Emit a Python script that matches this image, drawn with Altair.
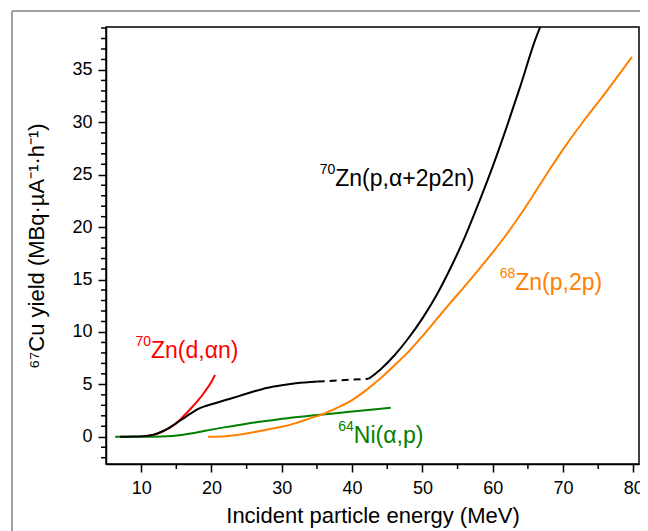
import altair as alt
import pandas as pd

# ---- data ----
# 70Zn(p,a+2p2n): low-energy solid part, dashed bridge, high-energy solid part
zn70p_low_e = [7.0, 9, 11, 12, 13, 14, 15, 16, 17, 18, 19, 20, 22, 24, 26, 28, 30, 32, 35.1]
zn70p_low_y = [0, 0.02, 0.1, 0.25, 0.5, 0.85, 1.3, 1.75, 2.2, 2.62, 2.9, 3.1, 3.5, 3.9, 4.32, 4.68, 4.92, 5.1, 5.27]
zn70p_gap_e = [35.1, 42.35]
zn70p_gap_y = [5.27, 5.53]
zn70p_high_e = [42.35, 44, 46, 48, 50, 52, 54, 56, 58, 60, 62, 64, 66, 66.75]
zn70p_high_y = [5.53, 6.4, 7.75, 9.4, 11.3, 13.5, 16.1, 19.0, 22.3, 25.8, 29.6, 33.6, 37.8, 39.1]

# 70Zn(d,an)
zn70d_e = [10.5, 12, 13, 14, 15, 16, 17, 18, 19, 20, 20.5]
zn70d_y = [0.05, 0.22, 0.5, 0.85, 1.3, 1.95, 2.65, 3.4, 4.25, 5.25, 5.9]

# 64Ni(a,p)
ni64_e = [6.3, 10, 13, 16, 18, 20, 22, 25, 28, 31, 34, 37, 40, 43, 45.5]
ni64_y = [0, 0, 0.03, 0.2, 0.42, 0.68, 0.92, 1.25, 1.52, 1.78, 2.0, 2.2, 2.4, 2.6, 2.76]

# 68Zn(p,2p)
zn68_e = [19.5, 22, 25, 28, 30, 32, 34, 36, 38, 40, 42, 44, 46, 48, 50, 52, 54, 56, 58,
          60, 62, 64, 66, 68, 70.5, 73, 76, 79.8]
zn68_y = [0, 0.05, 0.3, 0.7, 0.95, 1.3, 1.75, 2.2, 2.8, 3.5, 4.45, 5.55, 6.8, 8.1, 9.6,
          11.2, 12.8, 14.35, 15.95, 17.6, 19.35, 21.25, 23.3, 25.4, 27.9, 30.2, 32.8, 36.25]

# curve labels
label_sup = ["70", "70", "68", "64"]
label_main = ["Zn(p,\u03b1+2p2n)", "Zn(d,\u03b1n)", "Zn(p,2p)", "Ni(\u03b1,p)"]
label_e = [37.6, 11.4, 63.2, 40.25]
label_y = [23.9, 7.5, 14.0, -0.6]
label_color = ["#000000", "#ff0000", "#ff8000", "#008000"]

# ticks
x_major = list(range(10, 81, 10))
x_minor = list(range(15, 80, 10))
y_major = list(range(0, 40, 5))
y_minor = [v for v in range(-2, 40) if v % 5 != 0]

FONT = "Liberation Sans"
W, H = 533, 437

xscale = alt.Scale(domain=[5, 80.8], nice=False, zero=False)
yscale = alt.Scale(domain=[-2.6, 39.1], nice=False, zero=False)

xaxis = alt.Axis(
    values=x_major, tickSize=8,
    tickWidth=1.5, tickColor="black", domainColor="black", domainWidth=1.5,
    grid=False, labelFlush=False, labelOverlap=False,
    labelFont=FONT, labelFontSize=18, labelColor="black", labelPadding=7,
    title="Incident particle energy (MeV)", titleFont=FONT, titleFontSize=22,
    titleFontWeight="normal", titleColor="black", titlePadding=8,
)
yaxis = alt.Axis(
    values=y_major, tickSize=8,
    tickWidth=1.5, tickColor="black", domainColor="black", domainWidth=1.5,
    grid=False, labelFlush=False, labelOverlap=False,
    labelFont=FONT, labelFontSize=18, labelColor="black", labelPadding=6,
    title="\u2076\u2077Cu yield (MBq\u00b7\u00b5A\u207b\u00b9\u00b7h\u207b\u00b9)",
    titleFont=FONT, titleFontSize=22, titleFontWeight="normal", titleColor="black",
    titlePadding=23,
)

X = alt.X("E:Q", scale=xscale, axis=xaxis)
Y = alt.Y("Y:Q", scale=yscale, axis=yaxis)


def curve(es, ys, color, dash=None):
    df = pd.DataFrame({"E": es, "Y": ys})
    kw = dict(color=color, strokeWidth=2, clip=True, interpolate="monotone")
    if dash is not None:
        kw["strokeDash"] = dash
    return alt.Chart(df).mark_line(**kw).encode(x=X, y=Y)


lines = [
    curve(zn70d_e, zn70d_y, "#ff0000"),
    curve(ni64_e, ni64_y, "#008000"),
    curve(zn68_e, zn68_y, "#ff8000"),
    curve(zn70p_low_e, zn70p_low_y, "#000000"),
    curve(zn70p_gap_e, zn70p_gap_y, "#000000", dash=[7, 5]),
    curve(zn70p_high_e, zn70p_high_y, "#000000"),
]

# minor ticks (outward, shorter than the major ones)
y_minor_ticks = alt.Chart(pd.DataFrame({"Y": y_minor})).mark_rule(
    color="black", strokeWidth=1.5).encode(y=Y, x=alt.value(-5), x2=alt.value(0))
x_minor_ticks = alt.Chart(pd.DataFrame({"E": x_minor})).mark_rule(
    color="black", strokeWidth=1.5).encode(x=X, y=alt.value(H), y2=alt.value(H + 5))

lab_df = pd.DataFrame({"E": label_e, "Y": label_y, "sup": label_sup,
                       "main": label_main, "c": label_color})
sup_text = alt.Chart(lab_df).mark_text(
    align="right", baseline="alphabetic", dy=-12, fontSize=14, font=FONT
).encode(x=X, y=Y, text="sup:N", color=alt.Color("c:N", scale=None))
main_text = alt.Chart(lab_df).mark_text(
    align="left", baseline="alphabetic", fontSize=23, font=FONT
).encode(x=X, y=Y, text="main:N", color=alt.Color("c:N", scale=None))

# grey figure border (left and top edges) of the original panel
frame_left = alt.Chart(alt.Data(values=[{}])).mark_rule(color="#a0a0a0", strokeWidth=2).encode(
    x=alt.value(-94), y=alt.value(-16), y2=alt.value(520))
frame_top = alt.Chart(alt.Data(values=[{}])).mark_rule(color="#a0a0a0", strokeWidth=2).encode(
    x=alt.value(-94), x2=alt.value(560), y=alt.value(-16))

chart = alt.layer(frame_left, frame_top, *lines, y_minor_ticks, x_minor_ticks,
                  sup_text, main_text).properties(
    width=W, height=H,
    autosize=alt.AutoSizeParams(type="none"),
    padding={"left": 98, "top": 19, "right": 1, "bottom": 67},
    background="white",
).configure_view(stroke="black", strokeWidth=1.5)

chart.save("out.html", embed_options={"renderer": "svg", "actions": False})
